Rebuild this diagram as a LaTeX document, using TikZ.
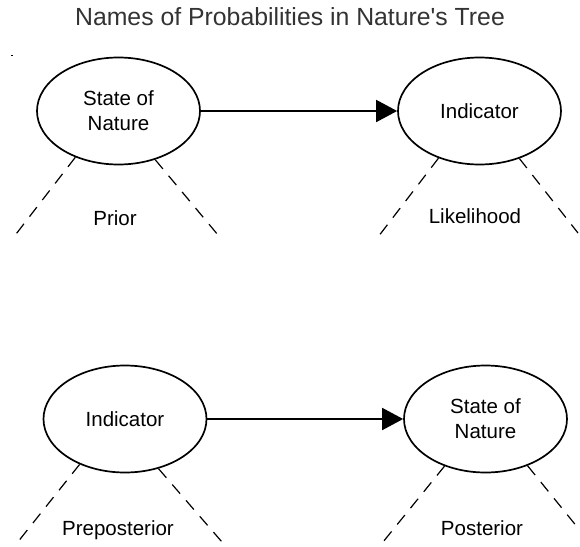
\documentclass[tikz,border=0pt]{standalone}
\usepackage{fontspec}
\setmainfont{Liberation Sans}
\usetikzlibrary{arrows.meta,shapes.geometric}
\begin{document}
\begin{tikzpicture}[x=1pt,y=-1pt,
  oval/.style={ellipse,draw,line width=1.7pt,minimum width=163pt,minimum height=107pt,
    inner sep=0pt,align=center,font=\fontsize{20.5}{25}\selectfont},
  flow/.style={line width=1.7pt,-{Triangle[length=21pt,width=22pt]}},
  branch/.style={dash pattern=on 12pt off 9pt,line width=1.2pt},
  tag/.style={anchor=base,font=\fontsize{20.5}{25}\selectfont},
  heading/.style={anchor=base,text=black!80,font=\fontsize{24.8}{30}\selectfont}]
\useasboundingbox (0,0) rectangle (580,546);

\node[heading] (title) at (290,25) {Names of Probabilities in Nature\textquotesingle s Tree};
\fill (11,54.5) rectangle (13,55.5);

% upper tree: state of nature -> indicator
\node[oval] (s1) at (118.5,111) {State of\\Nature};
\node[oval] (i1) at (479.5,111) {Indicator};
\draw[flow] (s1.east) -- (i1.west);

\coordinate (s1l) at (13,238);
\coordinate (s1r) at (218,235);
\coordinate (i1l) at (378,237);
\coordinate (i1r) at (578,233);
\draw[branch] (s1.227) -- (s1l);
\draw[branch] (s1.307) -- (s1r);
\draw[branch] (i1.229) -- (i1l);
\draw[branch] (i1.310) -- (i1r);
\node[tag] (prior) at (115,225) {Prior};
\node[tag] (like) at (475,223) {Likelihood};

% lower tree: indicator -> state of nature
\node[oval] (i2) at (125,419) {Indicator};
\node[oval] (s2) at (485.5,419) {State of\\Nature};
\draw[flow] (i2.east) -- (s2.west);

\coordinate (i2l) at (17,543);
\coordinate (i2r) at (222,542);
\coordinate (s2l) at (383,542);
\coordinate (s2r) at (578,528);
\draw[branch] (i2.225) -- (i2l);
\draw[branch] (i2.304) -- (i2r);
\draw[branch] (s2.229) -- (s2l);
\draw[branch] (s2.312) -- (s2r);
\node[tag] (prepost) at (118,535) {Preposterior};
\node[tag] (post) at (482,535) {Posterior};
\end{tikzpicture}
\end{document}
